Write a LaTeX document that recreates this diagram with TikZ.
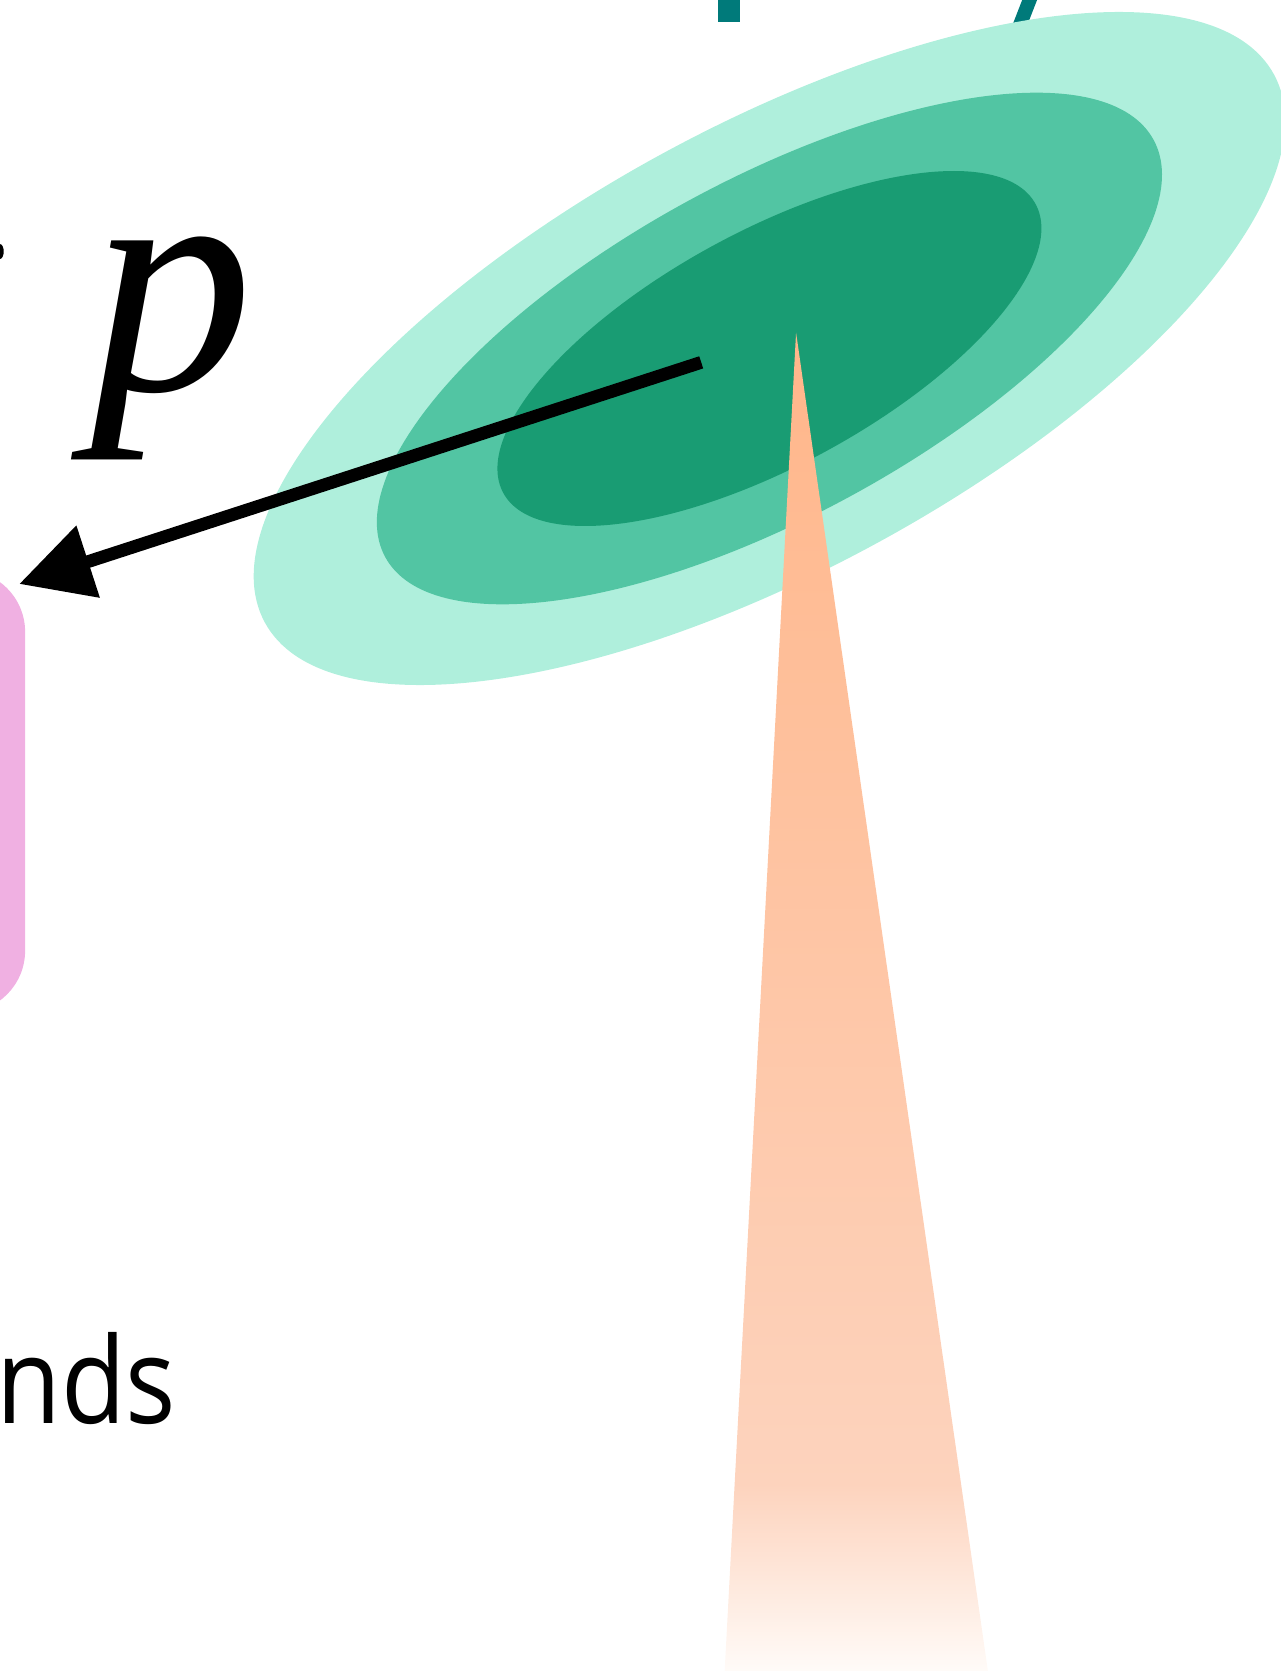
\documentclass[tikz,border=0pt]{standalone}
\usepackage{fontspec}
\setmainfont{Liberation Serif}
\newfontfamily\labelsans[FakeStretch=0.88]{Open Sans}
\usetikzlibrary{arrows.meta,shapes.geometric}
\definecolor{mintA}{RGB}{175,239,220}
\definecolor{mintB}{RGB}{82,197,163}
\definecolor{mintC}{RGB}{25,156,115}
\definecolor{stalkteal}{RGB}{0,122,122}
\definecolor{panelpink}{RGB}{240,176,226}
\definecolor{coneTop}{RGB}{255,182,138}
\definecolor{coneMid}{RGB}{253,211,189}
\definecolor{coneEnd}{RGB}{255,251,248}
\pgfdeclareverticalshading{conefade}{100bp}{color(0bp)=(coneEnd); color(25bp)=(coneEnd); color(32bp)=(coneMid); color(75bp)=(coneTop); color(100bp)=(coneTop)}

\begin{document}
\begin{tikzpicture}[x=0.01cm, y=-0.01cm,
  blob/.style={ellipse, draw=none, inner sep=0pt, rotate=28.5},
  panel/.style={fill=panelpink, draw=none, rounded corners=0.58cm, inner sep=0pt},
  stalk/.style={draw=stalkteal},
  ptr/.style={line width=0.12cm, -{Triangle[length=0.68cm, width=0.68cm]}}]
\useasboundingbox (0,0) rectangle (1202,1568);
\clip (0,0) rectangle (1202,1568);
\coordinate (s1a) at (684,-10);
\coordinate (s1b) at (684,21);
\coordinate (s2a) at (972,-15);
\coordinate (s2b) at (935,80);
\draw[stalk, line width=0.21cm] (s1a) -- (s1b);
\draw[stalk, line width=0.13cm] (s2a) -- (s2b);
\node[blob, fill=mintA, minimum width=10.77cm, minimum height=4.17cm] (halo) at (722,327) {};
\node[blob, fill=mintB, minimum width=8.2cm, minimum height=3.16cm] (shell) at (722,327) {};
\node[blob, fill=mintC, minimum width=5.68cm, minimum height=2.2cm] (core) at (722,327) {};
\coordinate (apex) at (747,312);
\coordinate (baseL) at (680,1568);
\coordinate (baseR) at (927,1568);
\shade[shading=conefade] (apex) -- (baseL) -- (baseR) -- cycle;
\node[panel, minimum width=2.24cm, minimum height=4.15cm] (box) at (-88.5,742.5) {};
\coordinate (tail) at (658,340);
\coordinate (tip) at (18,548);
\draw[ptr] (tail) -- (tip);
\node[anchor=base west, inner sep=0pt, font=\fontsize{87}{92}\selectfont\itshape] (plabel) at (84,366) {p};
\node[anchor=base west, inner sep=0pt, font=\labelsans\fontsize{32}{36}\selectfont] (word) at (-4,1336) {nds};
\fill (0,236) ellipse [x radius=0.035cm, y radius=0.07cm];
\end{tikzpicture}
\end{document}
